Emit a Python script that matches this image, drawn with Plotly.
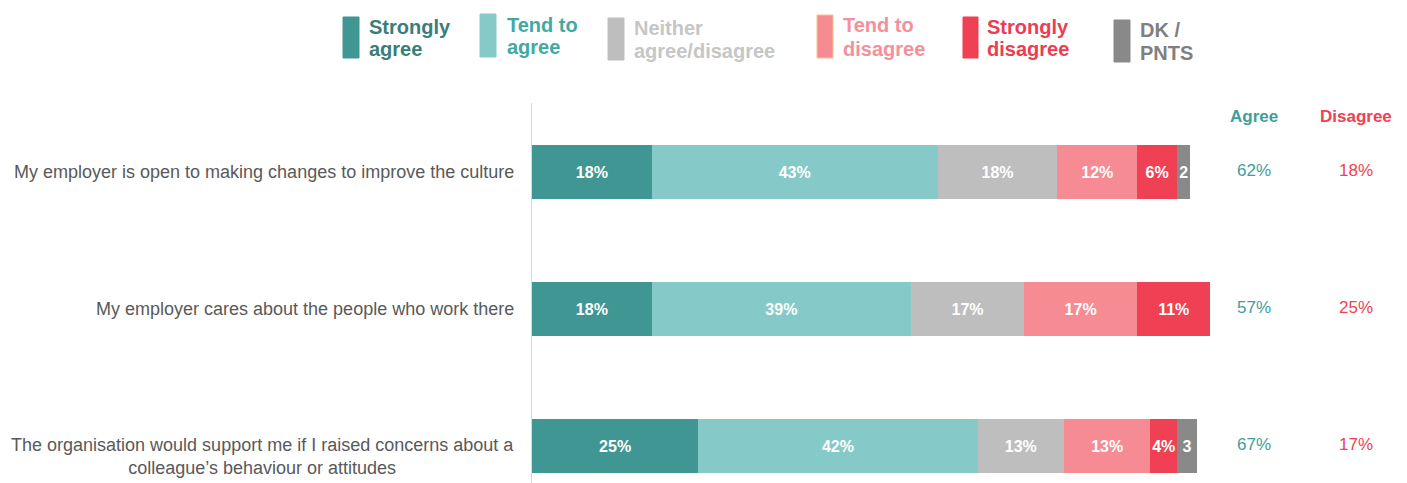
import plotly.graph_objects as go

# Survey statements (top to bottom)
statements = [
    "My employer is open to making changes to improve the culture",
    "My employer cares about the people who work there",
    "The organisation would support me if I raised concerns about a<br>colleague\u2019s behaviour or attitudes",
]

# Response categories
series_names = ["Strongly agree", "Tend to agree", "Neither agree/disagree",
                "Tend to disagree", "Strongly disagree", "DK / PNTS"]
legend_lines = [["Strongly", "agree"], ["Tend to", "agree"], ["Neither", "agree/disagree"],
                ["Tend to", "disagree"], ["Strongly", "disagree"], ["DK /", "PNTS"]]

# Percentages per category, one value per statement
strongly_agree = [18, 18, 25]
tend_to_agree = [43, 39, 42]
neither = [18, 17, 13]
tend_to_disagree = [12, 17, 13]
strongly_disagree = [6, 11, 4]
dk_pnts = [2, 0, 3]

# Net totals
agree_totals = [62, 57, 67]
disagree_totals = [18, 25, 17]

series_values = [strongly_agree, tend_to_agree, neither,
                 tend_to_disagree, strongly_disagree, dk_pnts]

bar_colors = ["#409692", "#85cac8", "#bebebe", "#f68b94", "#ef4153", "#898989"]
legend_text_colors = ["#3a7d7a", "#41a9a4", "#c6c6c6", "#f3909a", "#ee3c50", "#808080"]

FONT = "Liberation Sans, Arial, sans-serif"
W, H = 1407, 483
M_L, M_T = 532, 103
PX_PER_PCT = 6.65
X_MAX = (W - M_L) / PX_PER_PCT
ROW_PX = 137.0
ROW0_PX = 172.0
Y_TOP = (M_T - ROW0_PX) / ROW_PX
Y_BOT = (H - ROW0_PX) / ROW_PX


def px_x(px):
    return (px - M_L) / (W - M_L)


def px_y(py):
    return (H - py) / (H - M_T)


fig = go.Figure()

for name, vals, col in zip(series_names, series_values, bar_colors):
    labels = []
    for v in vals:
        if v == 0:
            labels.append("")
        elif name == "DK / PNTS":
            labels.append(f"{v}")
        else:
            labels.append(f"{v}%")
    fig.add_trace(go.Bar(
        name=name, y=list(range(len(statements))), x=vals, orientation="h",
        marker=dict(color=col, line=dict(width=0)),
        text=labels, textposition="inside", insidetextanchor="middle", textangle=0,
        textfont=dict(family=FONT, size=16, color="white", weight="bold"),
        showlegend=False, hoverinfo="skip",
    ))

# Net agree / disagree columns
AGREE_X = (1254 - M_L) / PX_PER_PCT
DISAGREE_X = (1356 - M_L) / PX_PER_PCT
fig.add_trace(go.Scatter(
    x=[AGREE_X] * len(agree_totals), y=list(range(len(agree_totals))),
    mode="text", text=[f"{v}%" for v in agree_totals],
    textfont=dict(family=FONT, size=17, color="#3f9e99"),
    showlegend=False, hoverinfo="skip", cliponaxis=False,
))
fig.add_trace(go.Scatter(
    x=[DISAGREE_X] * len(disagree_totals), y=list(range(len(disagree_totals))),
    mode="text", text=[f"{v}%" for v in disagree_totals],
    textfont=dict(family=FONT, size=17, color="#ef4153"),
    showlegend=False, hoverinfo="skip", cliponaxis=False,
))

annotations = []
shapes = []

# Column headers
annotations.append(dict(x=px_x(1254), y=px_y(116), xref="paper", yref="paper",
                        text="<b>Agree</b>", showarrow=False, xanchor="center", yanchor="middle",
                        font=dict(family=FONT, size=17, color="#3f9e99")))
annotations.append(dict(x=px_x(1356), y=px_y(116), xref="paper", yref="paper",
                        text="<b>Disagree</b>", showarrow=False, xanchor="center", yanchor="middle",
                        font=dict(family=FONT, size=17, color="#ef4153")))

# Statement labels, centred lines, right edge next to the axis;
# wrapped labels keep their first line level with the bar
for i, s in enumerate(statements):
    n_extra = s.count("<br>")
    annotations.append(dict(x=px_x(516), y=i, xref="paper", yref="y",
                            text=s, showarrow=False, xanchor="right", yanchor="middle",
                            align="center", yshift=-10.5 * n_extra,
                            font=dict(family=FONT, size=18, color="#595959")))

# Custom legend: tall swatches with two-line bold labels
legend_rects = [(343, 359, 17, 58), (480, 496, 14, 57), (608, 624, 18, 60),
                (817, 833, 15, 58), (963, 978, 17, 58), (1114, 1130, 20, 62)]
legend_text_x = [367, 505, 632, 841, 985, 1138]
for (x0, x1, y0, y1), tx, lines, bc, tc in zip(legend_rects, legend_text_x, legend_lines,
                                                 bar_colors, legend_text_colors):
    border = "#f7c48f" if lines[1] == "disagree" and lines[0] == "Tend to" else bc
    shapes.append(dict(type="rect", xref="paper", yref="paper",
                       x0=px_x(x0), x1=px_x(x1), y0=px_y(y1), y1=px_y(y0),
                       fillcolor=bc, line=dict(color=border, width=1)))
    yc = (y0 + y1) / 2
    for k, line in enumerate(lines):
        ly = yc - 11 if k == 0 else yc + 12
        annotations.append(dict(x=px_x(tx), y=px_y(ly), xref="paper", yref="paper",
                                text=f"<b>{line}</b>", showarrow=False,
                                xanchor="left", yanchor="middle",
                                font=dict(family=FONT, size=20, color=tc)))

fig.update_layout(
    width=W, height=H, barmode="stack", bargap=1 - 54 / ROW_PX,
    margin=dict(l=M_L, r=0, t=M_T, b=0, pad=0),
    paper_bgcolor="white", plot_bgcolor="white",
    uniformtext=dict(mode="show", minsize=16),
    xaxis=dict(range=[0, X_MAX], visible=False, fixedrange=True),
    yaxis=dict(range=[Y_BOT, Y_TOP], showticklabels=False, showgrid=False, zeroline=False,
               showline=True, linecolor="#d9d9d9", linewidth=1, ticks=""),
    annotations=annotations, shapes=shapes,
    font=dict(family=FONT),
)

fig.write_html("out.html", config={"displayModeBar": False})
